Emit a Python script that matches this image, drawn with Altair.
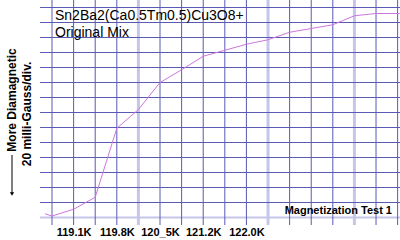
import altair as alt
import pandas as pd

# Data (x in grid divisions, y in divisions of 20 milli-Gauss)
x_vals = [-0.33, 0, 1, 2, 3, 4, 5, 6, 7, 8, 9, 10, 11, 13, 14, 15, 16.1]
y_vals = [0.25, 0.1, 0.55, 1.35, 5.95, 7.2, 9.0, 9.85, 10.75, 11.15, 11.55, 11.85, 12.35, 12.85, 13.45, 13.6, 13.6]

tick_pos = [1, 3, 5, 7, 9]
tick_labels = ["119.1K", "119.8K", "120_5K", "121.2K", "122.0K"]

v_grid = list(range(0, 17))
h_grid = list(range(0, 15))
v_light = [4, 10, 14]
h_light = [0]

FONT = "Liberation Sans"
DARK = "#5a5ab4"
LIGHT = "#c6c6ea"
LINE = "#cc77dd"

xs = alt.Scale(domain=[-0.556, 16.11], nice=False, zero=False)
ys = alt.Scale(domain=[-0.5, 14.5], nice=False, zero=False)

line_df = pd.DataFrame({"x": x_vals, "y": y_vals})
vdf = pd.DataFrame({"x": v_grid, "light": [v in v_light for v in v_grid]})
hdf = pd.DataFrame({"y": h_grid, "light": [h in h_light for h in h_grid]})

label_map = "{" + ",".join(f"'{p}':'{l}'" for p, l in zip(tick_pos, tick_labels)) + "}"

x_axis = alt.Axis(
    values=tick_pos,
    labelExpr=f"{label_map}[''+datum.value]",
    grid=False, domain=False, ticks=False,
    labelFont=FONT, labelFontSize=11, labelFontWeight="bold",
    labelColor="black", labelPadding=1, title=None,
)

v_light_rules = alt.Chart(vdf).transform_filter("datum.light").mark_rule(
    color=LIGHT, strokeWidth=3
).encode(x=alt.X("x:Q", scale=xs, axis=x_axis))
v_dark_rules = alt.Chart(vdf).transform_filter("!datum.light").mark_rule(
    color=DARK, strokeWidth=1
).encode(x=alt.X("x:Q", scale=xs, axis=x_axis))
h_light_rules = alt.Chart(hdf).transform_filter("datum.light").mark_rule(
    color=LIGHT, strokeWidth=2
).encode(y=alt.Y("y:Q", scale=ys, axis=None))
h_dark_rules = alt.Chart(hdf).transform_filter("!datum.light").mark_rule(
    color=DARK, strokeWidth=1
).encode(y=alt.Y("y:Q", scale=ys, axis=None))

line = alt.Chart(line_df).mark_line(color=LINE, strokeWidth=1).encode(
    x=alt.X("x:Q", scale=xs, axis=x_axis),
    y=alt.Y("y:Q", scale=ys, axis=None),
)

one = pd.DataFrame({"a": [0]})

def txt(text, x, y, size, weight="normal", align="left", angle=0, baseline="alphabetic"):
    kw = dict(text=text, font=FONT, fontSize=size, fontWeight=weight, align=align,
              baseline=baseline, color="black")
    if angle:
        kw["angle"] = angle
    return alt.Chart(one).mark_text(**kw).encode(x=alt.value(x), y=alt.value(y))

title1 = txt("Sn2Ba2(Ca0.5Tm0.5)Cu3O8+", 15, 20, 14)
title2 = txt("Original Mix", 15, 37, 14)
note = txt("Magnetization Test 1", 352, 214, 11, weight="bold", align="right")
ytitle1 = txt("More Diamagnetic", -28, 100, 12, weight="bold", align="center", angle=270, baseline="middle")
ytitle2 = txt("20 milli-Gauss/div.", -13, 114, 12, weight="bold", align="center", angle=270, baseline="middle")

arrow_shaft = alt.Chart(one).mark_rule(color="black", strokeWidth=1).encode(
    x=alt.value(-28), y=alt.value(155), y2=alt.value(193)
)
arrow_head = alt.Chart(one).mark_point(
    shape="triangle-down", filled=True, color="black", size=18, opacity=1
).encode(x=alt.value(-28), y=alt.value(194))

chart = alt.layer(
    v_light_rules, h_light_rules, v_dark_rules, h_dark_rules, line,
    title1, title2, note, ytitle1, ytitle2, arrow_shaft, arrow_head,
).properties(
    width=360, height=225,
    padding={"left": 40, "top": 0, "right": 0, "bottom": 15},
    autosize="none",
    background="white",
).configure_view(stroke=None)

chart.save("out.html", embed_options={"renderer": "svg", "actions": False})
